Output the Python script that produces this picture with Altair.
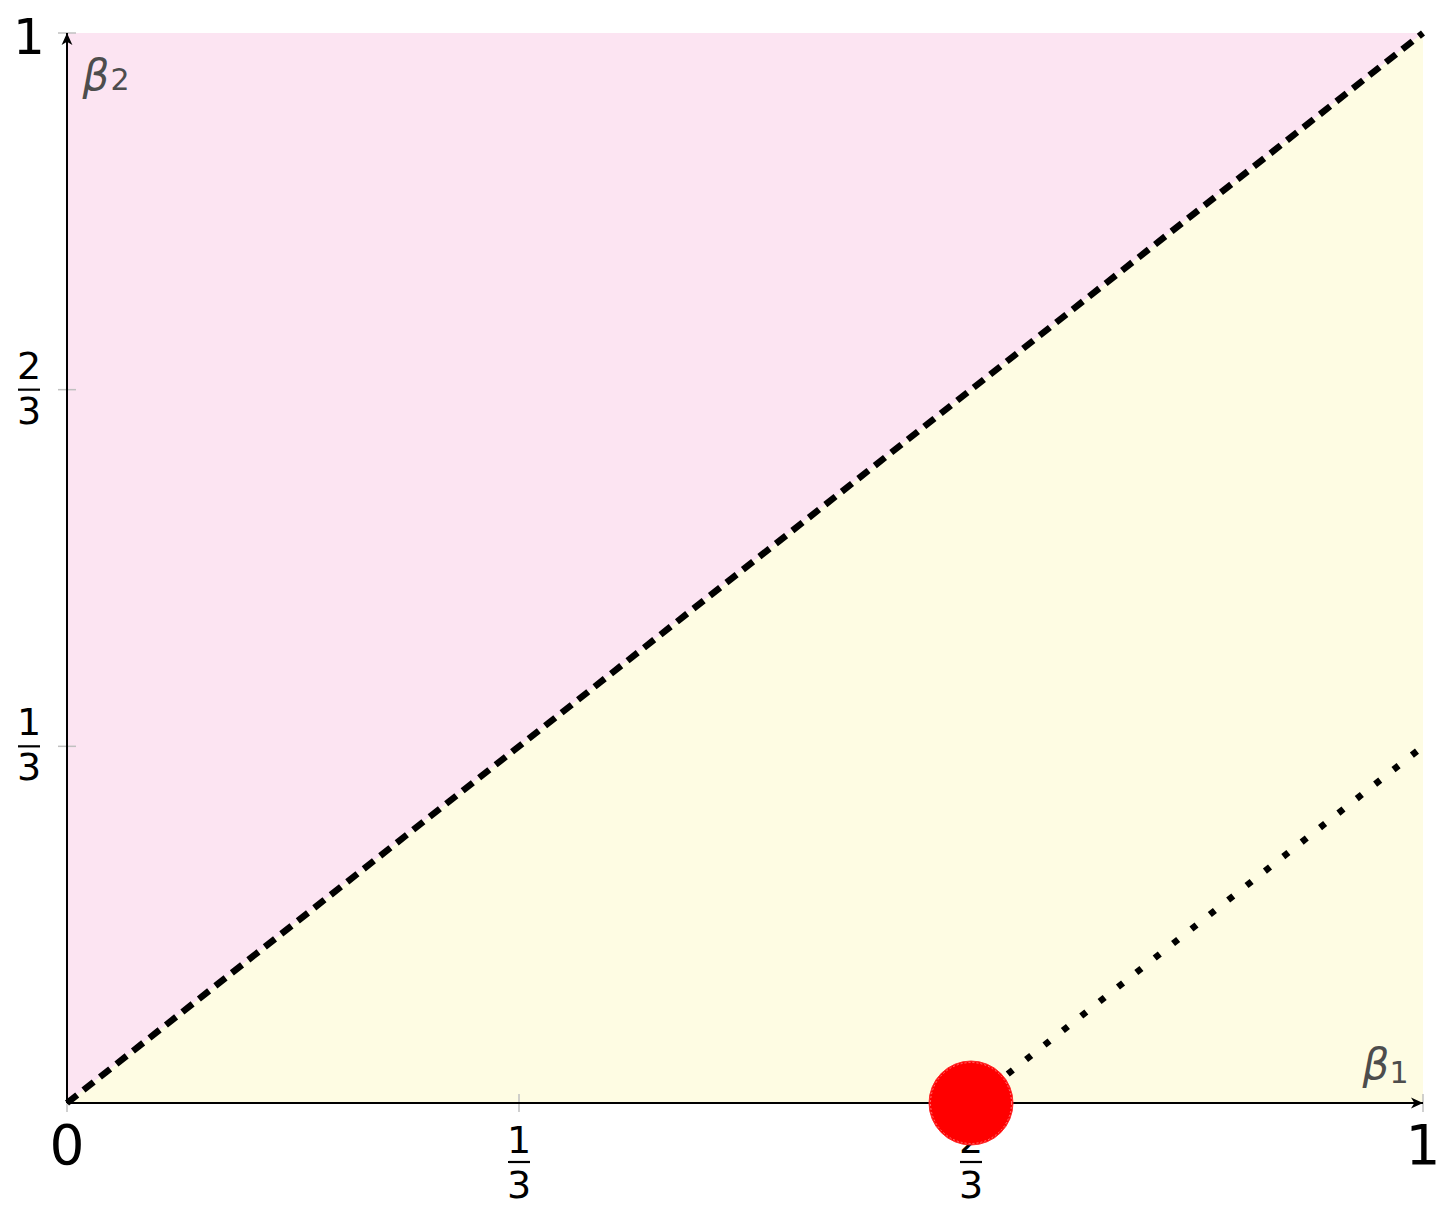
import altair as alt
import pandas as pd

# ---- data ----
diag_x = [0, 1]
diag_y = [0, 1]
dot_x = [2/3, 1]
dot_y = [0, 1/3]
point_x = [2/3]
point_y = [0]

x_tick_vals = [0, 1/3, 2/3, 1]
y_tick_vals = [1/3, 2/3, 1]

x_whole_vals = [0, 1]
x_whole_labels = ["0", "1"]
y_whole_vals = [1]
y_whole_labels = ["1"]

x_frac_vals = [1/3, 2/3]
x_frac_num = ["1", "2"]
x_frac_den = ["3", "3"]
y_frac_vals = [1/3, 2/3]
y_frac_num = ["1", "2"]
y_frac_den = ["3", "3"]

PINK = "#fce4f2"
YELLOW = "#fefce3"
FONT = "DejaVu Sans"
GRAY = "#4d4d4d"

xs = alt.Scale(domain=[0, 1], nice=False, zero=False)
ys = alt.Scale(domain=[0, 1], nice=False, zero=False)


def X(f):
    return alt.X(f, scale=xs, axis=None)


def Y(f):
    return alt.Y(f, scale=ys, axis=None)


region_df = pd.DataFrame({"x": diag_x, "d": diag_y, "top": [1, 1], "bot": [0, 0]})
pink = alt.Chart(region_df).mark_area(color=PINK, opacity=1).encode(
    x=X("x:Q"), y=Y("d:Q"), y2="top:Q")
yellow = alt.Chart(region_df).mark_area(color=YELLOW, opacity=1).encode(
    x=X("x:Q"), y=Y("bot:Q"), y2="d:Q")

xt_df = pd.DataFrame({"t": x_tick_vals, "z": [0] * len(x_tick_vals)})
yt_df = pd.DataFrame({"t": y_tick_vals, "z": [0] * len(y_tick_vals)})
xticks = alt.Chart(xt_df).mark_rule(color="#c0c0c0", strokeWidth=1.5, yOffset=-9, y2Offset=9).encode(
    x=X("t:Q"), y=Y("z:Q"), y2="z:Q")
yticks = alt.Chart(yt_df).mark_rule(color="#c0c0c0", strokeWidth=1.5, xOffset=-9, x2Offset=9).encode(
    y=Y("t:Q"), x=X("z:Q"), x2="z:Q")

xw_df = pd.DataFrame({"t": x_whole_vals, "lab": x_whole_labels, "z": [0] * len(x_whole_vals)})
yw_df = pd.DataFrame({"t": y_whole_vals, "lab": y_whole_labels, "z": [0] * len(y_whole_vals)})
xwhole = alt.Chart(xw_df).mark_text(font=FONT, fontSize=55, dy=44, color="black", baseline="middle").encode(
    x=X("t:Q"), y=Y("z:Q"), text="lab:N")
ywhole = alt.Chart(yw_df).mark_text(font=FONT, fontSize=50, dx=-38, dy=6, color="black", baseline="middle").encode(
    y=Y("t:Q"), x=X("z:Q"), text="lab:N")

xf_df = pd.DataFrame({"t": x_frac_vals, "num": x_frac_num, "den": x_frac_den, "z": [0] * len(x_frac_vals)})
yf_df = pd.DataFrame({"t": y_frac_vals, "num": y_frac_num, "den": y_frac_den, "z": [0] * len(y_frac_vals)})
xnum = alt.Chart(xf_df).mark_text(font=FONT, fontSize=38, dy=39, color="black", baseline="middle").encode(
    x=X("t:Q"), y=Y("z:Q"), text="num:N")
xden = alt.Chart(xf_df).mark_text(font=FONT, fontSize=38, dy=84, color="black", baseline="middle").encode(
    x=X("t:Q"), y=Y("z:Q"), text="den:N")
xbar = alt.Chart(xf_df).mark_rule(color="black", strokeWidth=2.2, xOffset=-11, x2Offset=11,
                                  yOffset=59, y2Offset=59).encode(
    x=X("t:Q"), x2="t:Q", y=Y("z:Q"), y2="z:Q")
ynum = alt.Chart(yf_df).mark_text(font=FONT, fontSize=38, dx=-38, dy=-22, color="black", baseline="middle").encode(
    y=Y("t:Q"), x=X("z:Q"), text="num:N")
yden = alt.Chart(yf_df).mark_text(font=FONT, fontSize=38, dx=-38, dy=23, color="black", baseline="middle").encode(
    y=Y("t:Q"), x=X("z:Q"), text="den:N")
ybar = alt.Chart(yf_df).mark_rule(color="black", strokeWidth=2.2, xOffset=-49, x2Offset=-27).encode(
    y=Y("t:Q"), y2="t:Q", x=X("z:Q"), x2="z:Q")

axis_df = pd.DataFrame({"a": [0], "b": [1], "z": [0]})
xaxis = alt.Chart(axis_df).mark_rule(color="black", strokeWidth=2).encode(
    x=X("a:Q"), x2="b:Q", y=Y("z:Q"))
yaxis = alt.Chart(axis_df).mark_rule(color="black", strokeWidth=2).encode(
    y=Y("a:Q"), y2="b:Q", x=X("z:Q"))

diag_df = pd.DataFrame({"x": diag_x, "y": diag_y})
dashed = alt.Chart(diag_df).mark_line(color="black", strokeWidth=6.5, strokeDash=[13, 8], strokeCap="butt").encode(
    x=X("x:Q"), y=Y("y:Q"))
dot_df = pd.DataFrame({"x": dot_x, "y": dot_y})
dotted = alt.Chart(dot_df).mark_line(color="black", strokeWidth=6.5, strokeDash=[6.5, 16.9], strokeCap="butt").encode(
    x=X("x:Q"), y=Y("y:Q"))

pt_df = pd.DataFrame({"x": point_x, "y": point_y})
circle = alt.Chart(pt_df).mark_point(filled=True, shape="circle", size=7056, color="#ff0000",
                                     stroke="#ff2a2a", strokeWidth=1, opacity=1).encode(
    x=X("x:Q"), y=Y("y:Q"))
ring = alt.Chart(pt_df).mark_point(filled=False, shape="circle", size=6560, color="#ffffff",
                                   strokeWidth=0.8, strokeDash=[2, 2], opacity=0.55).encode(
    x=X("x:Q"), y=Y("y:Q"))

arrow_df = pd.DataFrame({"x": [1], "y": [0]})
arrow_x = alt.Chart(arrow_df).mark_point(filled=True, shape="M0,0 L-1,-0.45 L-0.72,0 L-1,0.45 Z",
                                         size=576, color="black", opacity=1, strokeWidth=0).encode(
    x=X("x:Q"), y=Y("y:Q"))
arrow_y_df = pd.DataFrame({"x": [0], "y": [1]})
arrow_y = alt.Chart(arrow_y_df).mark_point(filled=True, shape="M0,0 L-0.45,1 L0,0.72 L0.45,1 Z",
                                           size=576, color="black", opacity=1, strokeWidth=0).encode(
    x=X("x:Q"), y=Y("y:Q"))

beta2 = alt.Chart(arrow_y_df).mark_text(text="β", font=FONT, fontStyle="italic", fontSize=42,
                                        color=GRAY, dx=29, dy=44, baseline="middle").encode(
    x=X("x:Q"), y=Y("y:Q"))
beta2s = alt.Chart(arrow_y_df).mark_text(text="2", font=FONT, fontSize=30,
                                         color=GRAY, dx=53, dy=48, baseline="middle").encode(
    x=X("x:Q"), y=Y("y:Q"))
beta1 = alt.Chart(arrow_df).mark_text(text="β", font=FONT, fontStyle="italic", fontSize=42,
                                      color=GRAY, dx=-47, dy=-37, baseline="middle").encode(
    x=X("x:Q"), y=Y("y:Q"))
beta1s = alt.Chart(arrow_df).mark_text(text="1", font=FONT, fontSize=30,
                                       color=GRAY, dx=-24, dy=-29, baseline="middle").encode(
    x=X("x:Q"), y=Y("y:Q"))

chart = alt.layer(
    pink, yellow, xticks, yticks,
    xwhole, ywhole, xnum, xden, xbar, ynum, yden, ybar,
    xaxis, yaxis, dashed, dotted, circle, ring, arrow_x, arrow_y,
    beta2, beta2s, beta1, beta1s,
).properties(
    width=1356, height=1070,
    autosize=alt.AutoSizeParams(type="none"),
    padding={"left": 59, "top": 25, "right": 22, "bottom": 108},
).configure_view(stroke=None)

chart.save("out.html", embed_options={"renderer": "svg", "actions": False})
